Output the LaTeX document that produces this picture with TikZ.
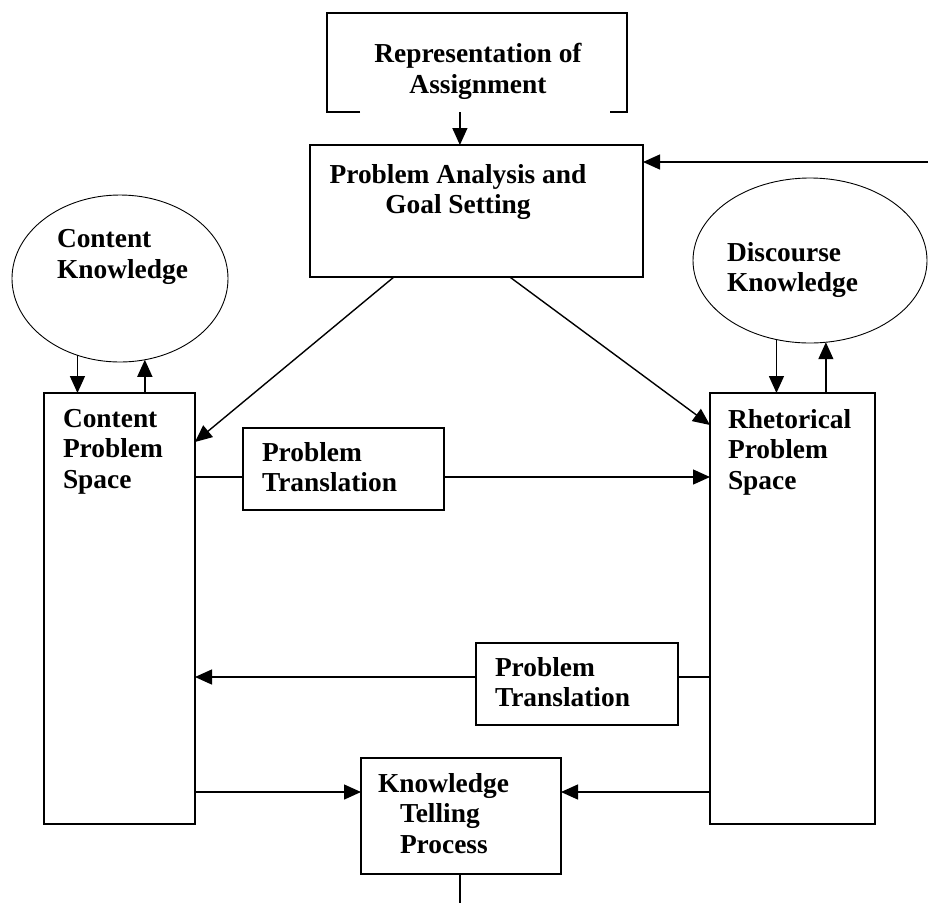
\documentclass[tikz,border=0pt]{standalone}
\usepackage{fontspec}
\setmainfont{Liberation Serif}
\usetikzlibrary{arrows.meta,calc,shapes.geometric}
\begin{document}
\begin{tikzpicture}[x=1pt,y=-1pt,
  box/.style={draw, line width=1.4pt, rectangle, inner sep=0pt, outer sep=0pt},
  oval/.style={draw, line width=0.9pt, ellipse, inner sep=0pt, outer sep=0pt},
  frame/.style={inner sep=0pt, outer sep=0pt},
  txt/.style={inner sep=0pt, outer sep=0pt, font=\fontsize{27.4}{30.5}\selectfont\bfseries, align=left, anchor=north west},
  ctxt/.style={txt, align=center, anchor=north},
  arr/.style={line width=1.4pt, -{Triangle[length=17pt,width=15pt]}},
  ln/.style={line width=1.4pt}]
\useasboundingbox (0,0) rectangle (928,903);

% shapes
\node[frame, minimum width=300pt, minimum height=99pt] (rep) at (477,62.5) {};
\node[box, minimum width=333pt, minimum height=132pt] (pa) at (476.5,211) {};
\node[oval, minimum width=216pt, minimum height=167pt] (ck) at (120,278.5) {};
\node[oval, minimum width=234pt, minimum height=165pt] (dk) at (810,260.5) {};
\node[box, minimum width=151pt, minimum height=431pt] (cps) at (119.5,608.5) {};
\node[box, minimum width=165pt, minimum height=431pt] (rps) at (792.5,608.5) {};
\node[box, minimum width=201pt, minimum height=82pt] (pt1) at (343.5,469) {};
\node[box, minimum width=202pt, minimum height=82pt] (pt2) at (577,684) {};
\node[box, minimum width=200pt, minimum height=116pt] (kt) at (461,816) {};

% bracket of the assignment box
\draw[ln] ($(rep.south west)+(33,0)$) -- (rep.south west) -- (rep.north west)
  -- (rep.north east) -- (rep.south east) -- ++(-17,0);

% texts
\node[ctxt] (reptxt) at (478,43.3) {Representation of\\Assignment};
\node[ctxt] (patxt) at (458,164.3) {Problem Analysis and\\Goal Setting};
\node[txt] (cktxt) at (57,229.5) {Content\\Knowledge};
\node[txt] (dktxt) at (727,242) {Discourse\\Knowledge};
\node[txt] (cpstxt) at (63,409.3) {Content\\Problem\\Space};
\node[txt] (rpstxt) at (728,409.3) {Rhetorical\\Problem\\Space};
\node[txt] (pt1txt) at (262,442.3) {Problem\\Translation};
\node[txt] (pt2txt) at (495,657.3) {Problem\\Translation};
\node[txt] (kttxt) at (378,773.3) {Knowledge\\\hspace*{22pt}Telling\\\hspace*{22pt}Process};

% helper coordinates
\coordinate (fb) at (928,162);
\coordinate (y1) at (0,477);
\coordinate (y2) at (0,677);
\coordinate (y3) at (0,792);
\coordinate (bottom) at (460,903);
\coordinate (ra) at ($(rep.south west)!0.443!(rep.south east)$);

% connectors
\draw[arr] (ra) -- (ra |- pa.north);
\draw[arr] (fb) -- (pa.east |- fb);
\draw[arr] ($(pa.south west)!0.252!(pa.south east)$) -- ($(cps.north east)+(0,49)$);
\draw[arr] ($(pa.south west)!0.60!(pa.south east)$) -- ($(rps.north west)+(0,32)$);

\draw[arr] (ck.241.4) -- (ck.241.4 |- cps.north);
\draw[arr] (cps.north -| ck.287.1) -- (ck.287.1);
\draw[arr] (dk.247.4) -- (dk.247.4 |- rps.north);
\draw[arr] (rps.north -| dk.281.1) -- (dk.281.1);

\draw[ln] (cps.east |- y1) -- (pt1.west |- y1);
\draw[arr] (pt1.east |- y1) -- (rps.west |- y1);
\draw[ln] (rps.west |- y2) -- (pt2.east |- y2);
\draw[arr] (pt2.west |- y2) -- (cps.east |- y2);
\draw[arr] (cps.east |- y3) -- (kt.west |- y3);
\draw[arr] (rps.west |- y3) -- (kt.east |- y3);
\draw[ln] (kt.south -| bottom) -- (bottom);
\end{tikzpicture}
\end{document}
